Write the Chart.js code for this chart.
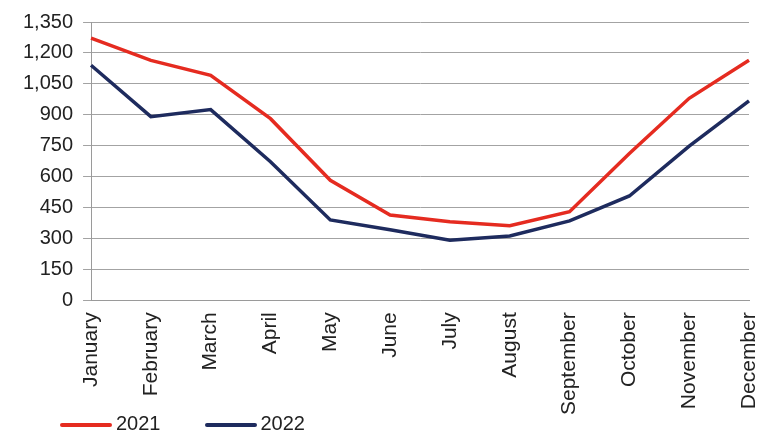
<!DOCTYPE html>
<html>
<head>
<meta charset="utf-8">
<script src="https://cdn.jsdelivr.net/npm/chart.js@4/dist/chart.umd.min.js"></script>
<style>
  body { margin: 0; background: #fff; }
  #wrap { position: relative; width: 760px; height: 433px; }
  #legend { position: absolute; left: 60px; top: 412px; font: 20px "Liberation Sans", Arial, sans-serif; color: #222; }
  #legend span.item { display: inline-block; margin-right: 44px; }
  #legend span.line { display: inline-block; width: 52px; height: 4px; vertical-align: middle; margin-right: 4px; border-radius: 2px; }
</style>
</head>
<body>
<div id="wrap">
  <canvas id="grafico" width="760" height="433"></canvas>
  <div id="legend"></div>
</div>
<script>
// dados do grafico
const meses = ['January', 'February', 'March', 'April', 'May', 'June', 'July', 'August', 'September', 'October', 'November', 'December'];
const serie2021 = [1272, 1164, 1091, 881, 582, 414, 381, 362, 430, 712, 980, 1164];
const serie2022 = [1140, 891, 925, 672, 390, 342, 291, 312, 385, 506, 748, 967];
const ticksY = [0, 150, 300, 450, 600, 750, 900, 1050, 1200, 1350];

const cores = { '2021': '#E52B20', '2022': '#1E2B5E' };

const ctx = document.getElementById('grafico');
const chart = new Chart(ctx, {
    type: 'line',
    data: {
        labels: meses,
        datasets: [
            { label: '2021', data: serie2021, borderColor: cores['2021'], backgroundColor: cores['2021'], borderWidth: 3.5, pointRadius: 0, tension: 0 },
            { label: '2022', data: serie2022, borderColor: cores['2022'], backgroundColor: cores['2022'], borderWidth: 3.5, pointRadius: 0, tension: 0 }
        ]
    },
    options: {
        responsive: false,
        animation: false,
        layout: { padding: { left: 13, right: 11, top: 16, bottom: 6 } },
        plugins: { legend: { display: false }, tooltip: { enabled: false } },
        scales: {
            x: {
                offset: false,
                grid: { display: false, drawTicks: false },
                border: { color: '#9a9a9a', width: 1 },
                ticks: { minRotation: 90, maxRotation: 90, padding: 12, color: '#222', font: { family: 'Liberation Sans', size: 21 } },
                afterFit: function (scale) { scale.paddingRight = 0; } // o rotulo de dezembro pode sair da area
            },
            y: {
                min: 0,
                max: 1350,
                afterBuildTicks: function (axis) { axis.ticks = ticksY.map(v => ({ value: v })); },
                grid: { color: '#a3a3a3', lineWidth: 1, tickLength: 8 },
                border: { color: '#9a9a9a', width: 1 },
                ticks: {
                    padding: 10, color: '#222', font: { family: 'Liberation Sans', size: 20 },
                    callback: function (v) { return v.toLocaleString('en-US'); }
                }
            }
        }
    }
});

// legenda
const leg = document.getElementById('legend');
chart.data.datasets.forEach(function (ds) {
    leg.insertAdjacentHTML('beforeend', '<span class="item"><span class="line" style="background:' + ds.borderColor + '"></span>' + ds.label + '</span>');
});
</script>
</body>
</html>
